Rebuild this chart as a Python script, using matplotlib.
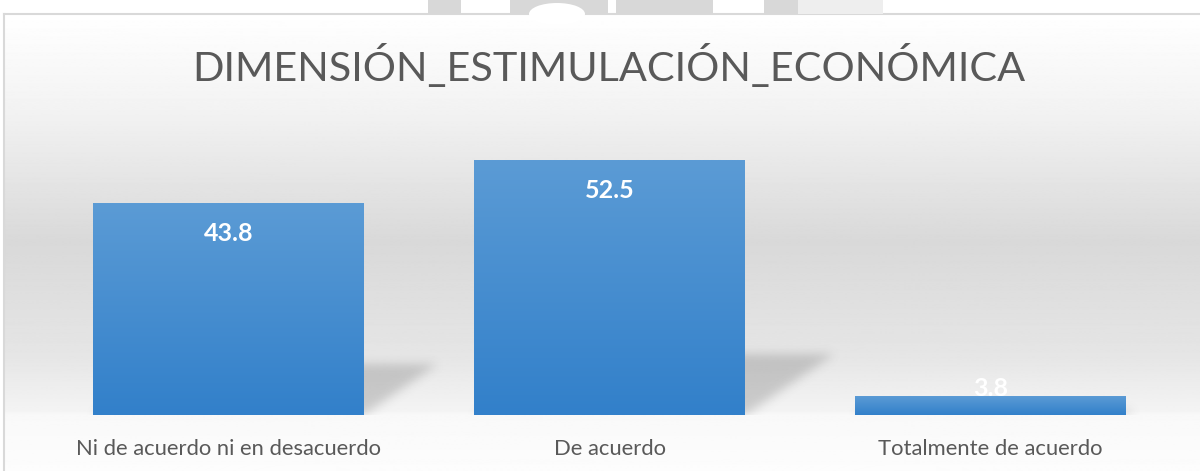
import matplotlib
matplotlib.use("Agg")
import matplotlib.pyplot as plt
import numpy as np
from matplotlib.patches import Rectangle, Ellipse

categories = ["Ni de acuerdo ni en desacuerdo", "De acuerdo", "Totalmente de acuerdo"]
values = [43.8, 52.5, 3.8]
labels = ["43.8", "52.5", "3.8"]
title = "DIMENSIÓN_ESTIMULACIÓN_ECONÓMICA"

W, H = 1200, 471
fig = plt.figure(figsize=(W / 100, H / 100), dpi=100)
fig.patch.set_facecolor("white")

# faint page watermark peeking above the chart
for x0, x1, c in [(428, 461, "#d8d8d8"), (510, 608, "#d8d8d8"), (616, 713, "#d8d8d8"),
                  (764, 798, "#d8d8d8"), (798, 883, "#eeeeee")]:
    fig.patches.append(Rectangle((x0 / W, 1 - 14 / H), (x1 - x0) / W, 14 / H,
                                 transform=fig.transFigure, facecolor=c, edgecolor="none"))
fig.patches.append(Ellipse((557 / W, 1 - 14 / H), 56 / W, 22 / H, transform=fig.transFigure,
                           facecolor="white", edgecolor="none"))

# chart area background: white -> gray -> white vertical gradient
bg = fig.add_axes([4 / W, -0.02, 1.0, 1 - 14 / H + 0.02], zorder=0)
ys = np.array([0, 90, 230, 345, 400, 404, 460])          # pixels from top of chart area
vs = np.array([1.0, 0.955, 0.85, 0.90, 0.955, 0.975, 0.99])
rows = np.interp(np.arange(470), ys, vs)
img = np.repeat(rows[:, None], 2, axis=1)
bg.imshow(img, cmap="gray", vmin=0, vmax=1, aspect="auto", extent=(0, 1, 0, 1))
bg.set_xticks([])
bg.set_yticks([])
for s in bg.spines.values():
    s.set_color("#d9d9d9")
    s.set_linewidth(1.5)

ax = fig.add_axes([38 / W, 56 / H, (1181 - 38) / W, 290.3 / H], zorder=1)
ax.patch.set_alpha(0)
x = np.arange(len(categories))
width = 0.711
ax.set_xlim(-0.5, 2.5)
ax.set_ylim(0, 60)
px_x = (1181 - 38) / 3.0   # pixels per category unit
px_y = 290.3 / 60          # pixels per value unit

top_c = np.array([91, 155, 213]) / 255
bot_c = np.array([50, 128, 202]) / 255
grad = np.linspace(0, 1, 100)[:, None, None] * (top_c - bot_c) + bot_c
grad = np.repeat(grad, 2, axis=1)


def blur(a, sigma):
    r = int(3 * sigma)
    k = np.exp(-0.5 * (np.arange(-r, r + 1) / sigma) ** 2)
    k /= k.sum()
    a = np.apply_along_axis(lambda m: np.convolve(m, k, mode="same"), 0, a)
    return np.apply_along_axis(lambda m: np.convolve(m, k, mode="same"), 1, a)


for xi, v, lab in zip(x, values, labels):
    x0, x1 = xi - width / 2, xi + width / 2
    # soft perspective shadow to the right of each bar
    bw = width * px_x
    sh = 0.24 * v * px_y
    dx = 1.45 * sh
    pad = 20
    nx, ny = int(bw + dx + 2 * pad), int(sh + 2 * pad)
    gx, gy = np.meshgrid(np.arange(nx) - pad, np.arange(ny) - pad)
    shift = dx * np.clip(gy, 0, None) / max(sh, 1)
    mask = ((gy >= 0) & (gy <= sh) & (gx >= shift) & (gx <= bw + shift)).astype(float)
    alpha = blur(mask, 5.0)[pad:, :] * 0.24
    rgba = np.zeros(alpha.shape + (4,))
    rgba[..., :3] = 0.3
    rgba[..., 3] = alpha
    ax.imshow(rgba, origin="lower", aspect="auto", zorder=2,
              extent=(x0 - pad / px_x, x0 + (nx - pad) / px_x, 0, (ny - pad) / px_y))
    ax.imshow(grad, extent=(x0, x1, 0, v), aspect="auto", origin="lower", zorder=3,
              interpolation="bilinear")
    ty = v - 6.2 if v > 12 else v + 1.7
    ax.text(xi, ty, lab, ha="center", va="center", color="white", fontsize=18,
            fontweight="bold", family="Lato", zorder=4)

ax.set_xlim(-0.5, 2.5)
ax.set_ylim(0, 60)
ax.set_xticks(x)
ax.set_xticklabels(categories, fontsize=15.8, color="#595959", family="Lato")
ax.tick_params(axis="x", length=0, pad=17)
ax.set_yticks([])
for s in ax.spines.values():
    s.set_visible(False)

fig.text(609 / W, 1 - 66 / H, title, ha="center", va="center", fontsize=29.8,
         color="#595959", family="Lato")

fig.savefig("out.png", dpi=100)
